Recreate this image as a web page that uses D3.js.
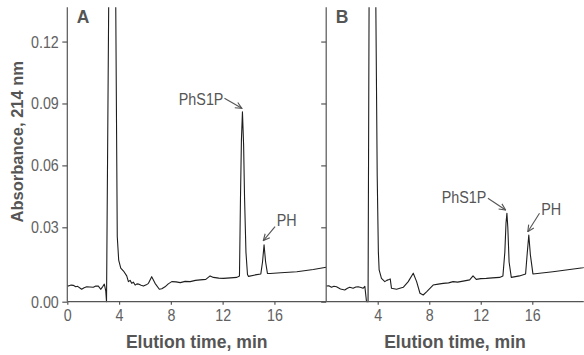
<!DOCTYPE html>
<html><head><meta charset="utf-8">
<script src="https://cdn.jsdelivr.net/npm/d3@7"></script>
<style>
html,body{margin:0;padding:0;background:#fff;}
svg{display:block;}
.tick text{font-family:"Liberation Sans",Arial,sans-serif;font-size:17px;fill:#616161;}
.axis path,.axis line{stroke:#555;stroke-width:1.2;}
</style></head>
<body>
<script>
// ---- data ----
const xTicksA = [0, 4, 8, 12, 16];
const xTicksB = [4, 8, 12, 16];
const yTicks = [0, 0.03, 0.06, 0.09, 0.12];
const yTickLabels = ["0.00", "0.03", "0.06", "0.09", "0.12"];
const panelLabels = ["A", "B"];
const xTitle = "Elution time, min";
const yTitle = "Absorbance, 214 nm";

// [time (min), absorbance]
const traceA = [
  [0,.0065],[0.08,.0063],[0.3,.0067],[0.46,.0066],[0.65,.0060],[0.8,.0062],[1.11,.0050],[1.3,.0056],[1.5,.0060],[1.75,.0059],
  [2.01,.0058],[2.2,.0063],[2.4,.0063],[2.58,.0050],[2.75,.0062],[2.86,.0071],[2.97,.0044],[3.03,0],
  [3.2,0.14],[3.45,0.6],[3.74,0.14],[3.86,0.0262],[3.97,0.0168],[4.13,0.0135],[4.38,0.0121],
  [4.59,0.0104],[4.72,0.0081],[4.85,0.0086],[4.98,0.0074],[5.1,0.0079],[5.24,0.0067],[5.38,0.0072],[5.5,0.0071],[5.7,0.0066],[5.88,0.0063],
  [6.1,0.0068],[6.27,0.0074],[6.52,0.0101],[6.78,0.0074],[7.11,0.0050],[7.3,0.0052],[7.55,0.0060],[7.8,0.0072],[8.07,0.0081],
  [8.4,0.0080],[8.73,0.0077],[9.1,0.0082],[9.49,0.0081],[9.9,0.0086],[10.26,0.0088],[10.7,0.0090],[11.03,0.0104],[11.29,0.0098],[11.7,0.0095],[12.06,0.0094],
  [12.6,0.0096],[13.1,0.0098],[13.3,0.0104],[13.38,0.045],[13.45,0.072],[13.53,0.086],
  [13.62,0.07],[13.69,0.045],[13.8,0.02],[13.92,0.011],[14.0,0.0102],[14.51,0.0108],
  [14.95,0.0112],[15.08,0.016],[15.2,0.0229],[15.32,0.016],[15.46,0.0114],[15.67,0.0114],
  [16.5,0.0117],[17.73,0.0121],[19,0.013],[20,0.0139]
];
const traceB = [
  [0,.0063],[0.2,.0064],[0.41,.0058],[0.6,.0062],[0.8,.006],[1.11,.0051],[1.44,.0047],[1.65,.0054],[1.83,.0058],[2.09,.0054],
  [2.3,.0059],[2.48,.006],[2.7,.0057],[2.86,.0054],[3.0,.0062],[3.13,0],[3.25,0],[3.33,0.14],[3.6,0.6],[3.85,0.14],
  [3.96,0.055],[4.05,0.02],[4.11,.0128],[4.29,.0094],[4.55,.0081],[4.7,.0086],[4.81,.0088],[4.97,.0092],
  [5.07,.0054],[5.46,.005],[5.98,.0058],[6.37,.0081],[6.76,.0115],[7.02,.0081],[7.28,.0034],
  [7.53,.0027],[7.79,.004],[8.3,.0067],[8.7,.0071],[9.08,.0074],[9.5,.0076],[9.85,.0081],[10.2,.0079],[10.63,.0083],[11.14,.0088],
  [11.4,.0104],[11.65,.009],[12.0,.0093],[12.43,.0094],[12.9,.0096],[13.46,.0098],[13.72,.0104],[13.87,.02],[13.96,.032],
  [14.03,.0368],[14.1,.03],[14.2,.016],[14.37,.0098],[15.0,.0104],[15.48,.0112],[15.6,.019],
  [15.73,.0269],[15.85,.019],[16.05,.0112],[17.6,.0121],[19.93,.0137],[20,.0138]
];
// peak annotations: label, peak time, peak absorbance
const peaksA = [["PhS1P", 13.53, 0.086], ["PH", 15.2, 0.0229]];
const peaksB = [["PhS1P", 14.03, 0.0368], ["PH", 15.73, 0.0269]];

// ---- layout ----
const W = 584, H = 355;
const yTop = 7.3, yBot = 301.7, y03 = 227.3;
const NARROW = 0.84;
const svg = d3.select("body").append("svg").attr("width", W).attr("height", H);

const y = d3.scaleLinear().domain([0, 0.03, 0.1366]).range([yBot, y03, yTop]);
const xA = d3.scaleLinear().domain([0, 20]).range([67.3, 326.2]);
const xB = d3.scaleLinear().domain([0, 20]).range([326.2, 583.8]);

const defs = svg.append("defs");
defs.append("marker").attr("id","arr").attr("viewBox","0 0 10 10").attr("refX",9).attr("refY",5)
  .attr("markerWidth",8).attr("markerHeight",8).attr("markerUnits","userSpaceOnUse").attr("orient","auto")
  .append("path").attr("d","M1,1.2 L9,5 L1,8.8").attr("fill","none").attr("stroke","#555").attr("stroke-width",1.4);

function panel(idx, x, data, peaks, xt, labelOff) {
  const cid = "clip" + idx;
  defs.append("clipPath").attr("id", cid).append("rect")
    .attr("x", x.range()[0]).attr("y", yTop).attr("width", x.range()[1]-x.range()[0]).attr("height", yBot-yTop+1);
  const line = d3.line().x(d => x(d[0])).y(d => y(d[1]));
  svg.append("path").datum(data).attr("clip-path", `url(#${cid})`)
    .attr("d", line).attr("fill","none").attr("stroke","#1e1e1e").attr("stroke-width",1.1)
    .attr("stroke-linejoin","round");

  // axes
  const gx = svg.append("g").attr("class","axis").attr("transform",`translate(0,${yBot})`)
    .call(d3.axisBottom(x).tickValues(xt).tickSize(3).tickPadding(4).tickFormat(d3.format("d")));
  gx.select(".domain").attr("d", `M${x.range()[0]},0H${x.range()[1]}`);
  gx.selectAll(".tick text").attr("transform", `scale(${NARROW},1)`);
  const gy = svg.append("g").attr("class","axis").attr("transform",`translate(${x.range()[0]},0)`)
    .call(d3.axisLeft(y).tickValues(yTicks).tickSize(5).tickPadding(3)
      .tickFormat((d,i) => idx === 0 ? yTickLabels[i] : ""));
  gy.select(".domain").attr("d", `M0,${yTop}V${yBot}`);
  gy.selectAll(".tick text").attr("x", -8.5 / NARROW).attr("transform", `scale(${NARROW},1)`);

  // titles
  svg.append("text").attr("x", (x.range()[0]+x.range()[1])/2).attr("y", 347.5)
    .attr("text-anchor","middle").attr("font-family","Liberation Sans, Arial, sans-serif")
    .attr("font-weight","bold").attr("font-size",17.6).attr("fill","#555").text(xTitle);
  svg.append("text").attr("x", x.range()[0] + 9.5).attr("y", 22.7)
    .attr("font-family","Liberation Sans, Arial, sans-serif").attr("font-weight","bold")
    .attr("font-size",17.5).attr("fill","#555").text(panelLabels[idx]);

  // annotations
  peaks.forEach((p, i) => {
    const px = x(p[1]), py = y(p[2]);
    const o = labelOff[i];
    svg.append("line").attr("x1", px + o.sx).attr("y1", py + o.sy)
      .attr("x2", px + o.ex).attr("y2", py + o.ey)
      .attr("stroke","#555").attr("stroke-width",1.1).attr("marker-end","url(#arr)");
    svg.append("text")
      .attr("transform", `translate(${px + o.tx},${py + o.ty}) scale(0.88,1)`)
      .attr("text-anchor", o.anchor)
      .attr("font-family","Liberation Sans, Arial, sans-serif")
      .attr("font-size",16.3).attr("fill","#555").text(p[0]);
  });
}

panel(0, xA, traceA, peaksA, xTicksA, [
  {sx:-18, sy:-13.4, ex:-0.6, ey:-3.4, tx:-19, ty:-6.7, anchor:"end"},
  {sx:11, sy:-18.3, ex:-0.7, ey:-4.3, tx:12.7, ty:-19, anchor:"start"}
]);
panel(1, xB, traceB, peaksB, xTicksB, [
  {sx:-19, sy:-15, ex:-1.3, ey:-3.3, tx:-20.6, ty:-10.3, anchor:"end"},
  {sx:10.7, sy:-21.7, ex:-1, ey:-3.3, tx:12.4, ty:-20, anchor:"start"}
]);

svg.append("text").attr("transform","translate(23.3,141.7) rotate(-90)").attr("text-anchor","middle")
  .attr("font-family","Liberation Sans, Arial, sans-serif").attr("font-weight","bold")
  .attr("font-size",16.5).attr("fill","#555").text(yTitle);
</script>
</body></html>
